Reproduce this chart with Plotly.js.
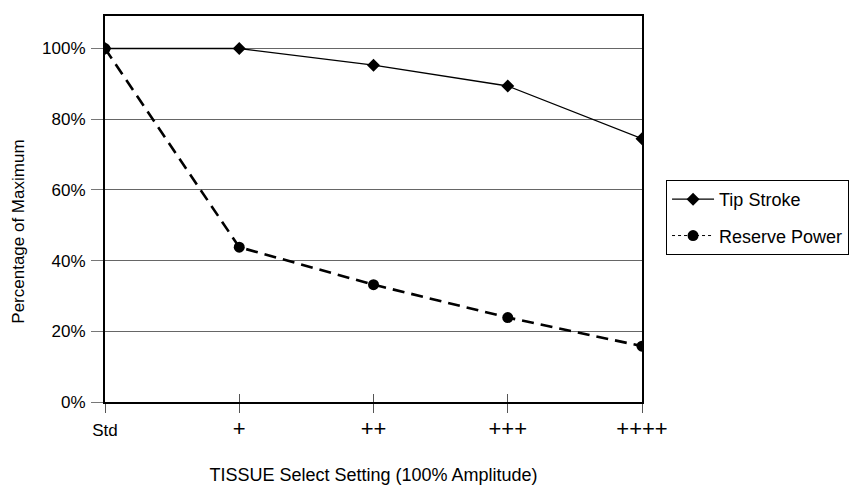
<!DOCTYPE html>
<html>
<head>
<meta charset="utf-8">
<script src="https://cdn.plot.ly/plotly-3.0.1.min.js"></script>
<style>html,body{margin:0;padding:0;background:#fff;}#chart{width:855px;height:485px;}</style>
</head>
<body>
<div id="chart"></div>
<script>
const categories = ["Std", "+", "++", "+++", "++++"];
const tipStroke = [1.00, 1.00, 0.953, 0.894, 0.745];
const reservePower = [1.00, 0.438, 0.332, 0.239, 0.158];
const yTickVals = [0, 0.2, 0.4, 0.6, 0.8, 1.0];
const yTickText = ["0%", "20%", "40%", "60%", "80%", "100%"];

const xIdx = categories.map((c, i) => i);
const FONT = "Liberation Sans, Arial, Helvetica, sans-serif";
// the "+" settings are shown with a larger glyph in the original
const xTickText = categories.map(c => c.startsWith("+") ? "<span style='font-size:22px'>" + c + "</span>" : c);

const traces = [
  {
    x: xIdx, y: tipStroke, name: "Tip Stroke", type: "scatter", mode: "lines+markers",
    line: {color: "#000", width: 1.3},
    marker: {symbol: "diamond", size: 10, color: "#000"},
    hoverinfo: "skip"
  },
  {
    x: xIdx, y: reservePower, name: "Reserve Power", type: "scatter", mode: "lines+markers",
    line: {color: "#000", width: 2.6, dash: "12px,7px"},
    marker: {symbol: "circle", size: 11, color: "#000"},
    showlegend: false, legendgroup: "rp", hoverinfo: "skip"
  },
  {
    x: [null], y: [null], name: "Reserve Power", type: "scatter", mode: "lines+markers",
    line: {color: "#000", width: 1, dash: "dot"},
    marker: {symbol: "circle", size: 11, color: "#000"},
    legendgroup: "rp", hoverinfo: "skip"
  },
  {
    x: xIdx, y: reservePower, xaxis: "x2", type: "scatter", mode: "none",
    showlegend: false, hoverinfo: "skip"
  }
];

const layout = {
  width: 855, height: 485,
  margin: {l: 105, r: 213, t: 16, b: 83, pad: 0, autoexpand: false},
  paper_bgcolor: "#fff", plot_bgcolor: "#fff",
  font: {family: FONT, size: 17, color: "#000"},
  showlegend: true,
  xaxis: {
    range: [0, 4], tickvals: xIdx, ticktext: xTickText,
    showgrid: false, zeroline: false,
    showline: true, linecolor: "#000", linewidth: 2, mirror: true,
    ticks: "outside", ticklen: 9, tickwidth: 1, tickcolor: "#555",
    ticklabelstandoff: 3,
    tickfont: {family: FONT, size: 17, color: "#000"},
    title: {text: "TISSUE Select Setting (100% Amplitude)", font: {family: FONT, size: 18, color: "#000"}, standoff: 32}
  },
  xaxis2: {
    range: [0, 4], tickvals: xIdx, overlaying: "x", anchor: "y", side: "bottom",
    showgrid: false, zeroline: false, showline: false, showticklabels: false,
    ticks: "inside", ticklen: 8, tickwidth: 1, tickcolor: "#555"
  },
  yaxis: {
    range: [0, 1.092], tickvals: yTickVals, ticktext: yTickText,
    showgrid: true, gridcolor: "#666", gridwidth: 1, zeroline: false,
    showline: true, linecolor: "#000", linewidth: 2, mirror: true,
    ticks: "outside", ticklen: 12, tickwidth: 1, tickcolor: "#777",
    ticklabelstandoff: 2,
    tickfont: {family: FONT, size: 17, color: "#000"}
  },
  annotations: [{
    text: "Percentage of Maximum", textangle: -90,
    xref: "paper", yref: "paper", x: -0.161, y: 0.44,
    xanchor: "center", yanchor: "middle", showarrow: false,
    font: {family: FONT, size: 17, color: "#000"}
  }],
  legend: {
    xref: "container", yref: "container",
    x: 0.779, y: 0.629, xanchor: "left", yanchor: "top",
    bgcolor: "#fff", bordercolor: "#000", borderwidth: 1,
    font: {family: FONT, size: 18, color: "#000"},
    itemwidth: 42
  }
};

Plotly.newPlot("chart", traces, layout, {staticPlot: true, displayModeBar: false});
</script>
</body>
</html>
